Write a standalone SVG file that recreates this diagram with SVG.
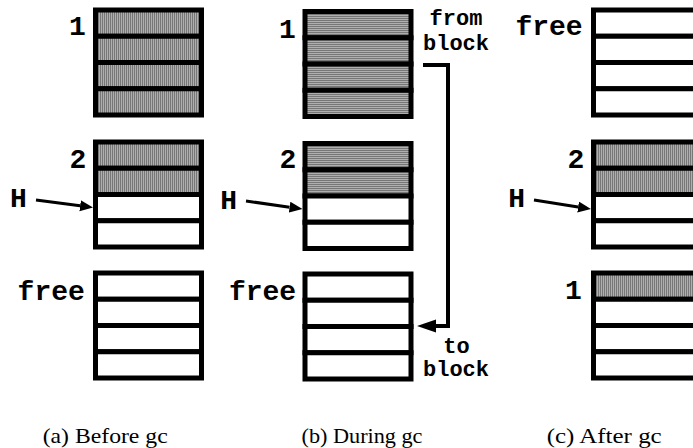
<svg xmlns="http://www.w3.org/2000/svg" width="693" height="448" viewBox="0 0 693 448">
<style>
.row{stroke:#000;stroke-width:5;fill:#fff}
.sh{fill:url(#dots)}
.lbl{font-family:"Liberation Mono","DejaVu Sans Mono",monospace;font-weight:bold;font-size:28px;fill:#000;text-anchor:middle}
.sm{font-family:"Liberation Mono","DejaVu Sans Mono",monospace;font-weight:bold;font-size:22px;fill:#000;text-anchor:middle}
.cap{font-family:"Liberation Serif","DejaVu Serif",serif;font-size:21px;fill:#000}
.harrow{stroke:#000;stroke-width:3;fill:none;marker-end:url(#ah)}
.big{stroke:#000;stroke-width:4;fill:none;stroke-linejoin:miter;marker-end:url(#ahb)}
</style>
<defs>
<pattern id="dots" width="2" height="2" patternUnits="userSpaceOnUse">
<rect width="2" height="2" fill="#777"/>
<rect width="1" height="1" fill="#e6e6e6"/>
</pattern>
<marker id="ah" markerUnits="userSpaceOnUse" markerWidth="14" markerHeight="12" refX="0" refY="5.5" orient="auto">
<path d="M0,0 L13,5.5 L0,11 z" fill="#000"/>
</marker>
<marker id="ahb" markerUnits="userSpaceOnUse" markerWidth="20" markerHeight="14" refX="0" refY="6.5" orient="auto">
<path d="M0,0 L19,6.5 L0,13 z" fill="#000"/>
</marker>
<g id="rows4">
<rect class="row" x="2.5" y="2.5" width="106" height="26.25"/>
<rect class="row" x="2.5" y="28.75" width="106" height="26.25"/>
<rect class="row" x="2.5" y="55" width="106" height="26.25"/>
<rect class="row" x="2.5" y="81.25" width="106" height="26.25"/>
</g>
</defs>

<!-- (a) Before gc -->
<g id="a-block1" transform="translate(93,7.5)">
<rect class="row sh" x="2.5" y="2.5" width="106" height="26.25"/>
<rect class="row sh" x="2.5" y="28.75" width="106" height="26.25"/>
<rect class="row sh" x="2.5" y="55" width="106" height="26.25"/>
<rect class="row sh" x="2.5" y="81.25" width="106" height="26.25"/>
<text class="lbl" x="-15.5" y="27.5">1</text>
</g>
<g id="a-block2" transform="translate(93,139.5)">
<rect class="row sh" x="2.5" y="2.5" width="106" height="26.25"/>
<rect class="row sh" x="2.5" y="28.75" width="106" height="26.25"/>
<rect class="row" x="2.5" y="55" width="106" height="26.25"/>
<rect class="row" x="2.5" y="81.25" width="106" height="26.25"/>
<text class="lbl" x="-15" y="28">2</text>
</g>
<g id="a-free" transform="translate(93,270.5)">
<use href="#rows4"/>
<text class="lbl" x="-41.8" y="29">free</text>
</g>
<g id="a-H">
<text class="lbl" x="18.3" y="206.7">H</text>
</g>
<text class="cap" x="42.7" y="443" textLength="125" lengthAdjust="spacingAndGlyphs">(a) Before gc</text>

<!-- (b) During gc -->
<g id="b-block1" transform="translate(302.5,9)">
<rect class="row sh" x="2.5" y="2.5" width="106" height="26.25"/>
<rect class="row sh" x="2.5" y="28.75" width="106" height="26.25"/>
<rect class="row sh" x="2.5" y="55" width="106" height="26.25"/>
<rect class="row sh" x="2.5" y="81.25" width="106" height="26.25"/>
<text class="lbl" x="-15" y="28.5">1</text>
</g>
<g id="b-block2" transform="translate(302.5,141)">
<rect class="row sh" x="2.5" y="2.5" width="106" height="26.25"/>
<rect class="row sh" x="2.5" y="28.75" width="106" height="26.25"/>
<rect class="row" x="2.5" y="55" width="106" height="26.25"/>
<rect class="row" x="2.5" y="81.25" width="106" height="26.25"/>
<text class="lbl" x="-14.5" y="27.3">2</text>
</g>
<g id="b-free" transform="translate(302.5,271.5)">
<use href="#rows4"/>
<text class="lbl" x="-40" y="28.5">free</text>
</g>
<g id="b-H">
<text class="lbl" x="228.6" y="208.5">H</text>
</g>
<g id="b-from">
<text class="sm" x="456" y="25">from</text>
<text class="sm" x="456" y="50">block</text>
</g>
<g id="b-to">
<text class="sm" x="456.5" y="353">to</text>
<text class="sm" x="456" y="376">block</text>
</g>
<text class="cap" x="301.5" y="443" textLength="121" lengthAdjust="spacingAndGlyphs">(b) During gc</text>

<!-- (c) After gc -->
<g id="c-free" transform="translate(591,7.5)">
<use href="#rows4"/>
<text class="lbl" x="-42" y="27.5">free</text>
</g>
<g id="c-block2" transform="translate(591,139.5)">
<rect class="row sh" x="2.5" y="2.5" width="106" height="26.25"/>
<rect class="row sh" x="2.5" y="28.75" width="106" height="26.25"/>
<rect class="row" x="2.5" y="55" width="106" height="26.25"/>
<rect class="row" x="2.5" y="81.25" width="106" height="26.25"/>
<text class="lbl" x="-15" y="28">2</text>
</g>
<g id="c-block1" transform="translate(591,270.5)">
<rect class="row sh" x="2.5" y="2.5" width="106" height="26.25"/>
<rect class="row" x="2.5" y="28.75" width="106" height="26.25"/>
<rect class="row" x="2.5" y="55" width="106" height="26.25"/>
<rect class="row" x="2.5" y="81.25" width="106" height="26.25"/>
<text class="lbl" x="-17.7" y="28">1</text>
</g>
<g id="c-H">
<text class="lbl" x="516.7" y="206.7">H</text>
</g>
<text class="cap" x="546.7" y="443" textLength="115" lengthAdjust="spacingAndGlyphs">(c) After gc</text>

<!-- connectors -->
<g id="connectors">
<line class="harrow" x1="36" y1="200" x2="80.1" y2="205.8"/>
<line class="harrow" x1="246" y1="201" x2="289.6" y2="207.2"/>
<line class="harrow" x1="534" y1="200" x2="578.1" y2="207"/>
<polyline class="big" points="423,65 448,65 448,326 436,326"/>
</g>
</svg>
